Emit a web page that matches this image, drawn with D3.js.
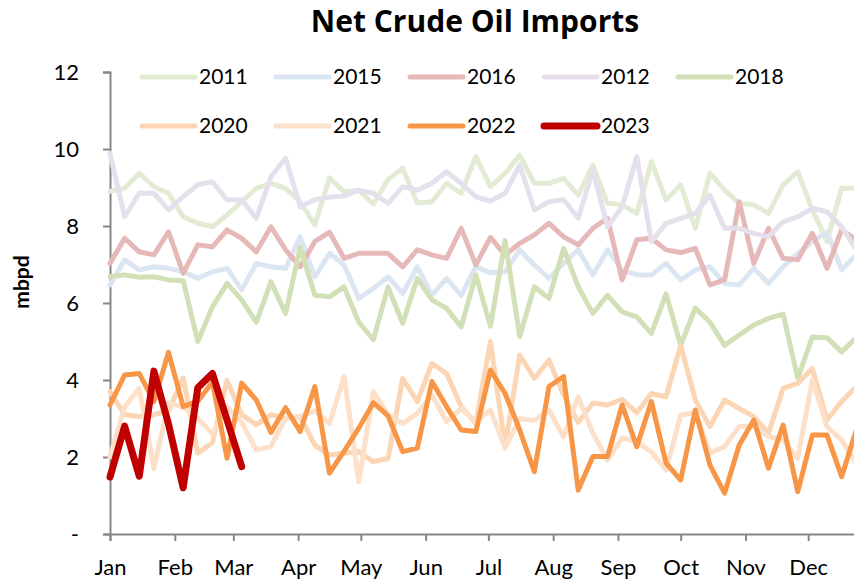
<!DOCTYPE html>
<html>
<head>
<meta charset="utf-8">
<script src="https://cdn.jsdelivr.net/npm/d3@7"></script>
<style>
  body { margin: 0; background: #fff; }
  text { font-family: Lato, "Open Sans", sans-serif; }
</style>
</head>
<body>
<div class="canvas"></div>
<script>
// weekly net crude imports, mbpd (week i falls on day 7*i of the year)
const years = ["2011", "2015", "2016", "2012", "2018", "2020", "2021", "2022", "2023"]
const colors = ["#e2ebd4", "#dce6f2", "#e6b9b8", "#e6e0ec", "#d1e0b6", "#fcd5b5", "#fde0c9", "#f79646", "#c00000"]
const widths = [5, 5, 5, 5, 5, 5, 5, 5, 7]

const s2011 = [8.9, 8.98, 9.37, 9.02, 8.85, 8.24, 8.07, 7.98, 8.29, 8.63, 8.98, 9.11, 8.98, 8.63,
  8.03, 9.25, 8.89, 8.93, 8.57, 9.2, 9.5, 8.6, 8.63, 9.11, 8.85, 9.8, 9.02,
  9.37, 9.84, 9.11, 9.11, 9.24, 8.8, 9.58, 8.59, 8.55, 8.33, 9.67, 8.68, 9.07,
  7.94, 9.37, 8.93, 8.59, 8.55, 8.33, 9.07, 9.41, 8.42, 7.6, 8.98, 8.98]
const s2015 = [6.47, 7.12, 6.86, 6.94, 6.9, 6.81, 6.64, 6.81, 6.9, 6.34, 7.03, 6.94, 6.9, 7.72,
  6.68, 7.29, 6.99, 6.12, 6.38, 6.68, 6.25, 6.94, 6.2, 6.64, 6.2, 6.94, 6.79,
  6.81, 7.38, 6.99, 6.64, 7.03, 7.38, 6.73, 7.38, 6.86, 6.73, 6.73, 7.03, 6.6,
  6.86, 6.94, 6.51, 6.47, 6.9, 6.51, 6.94, 7.29, 7.59, 7.85, 6.86, 7.25]
const s2016 = [7.03, 7.68, 7.33, 7.25, 7.85, 6.77, 7.51, 7.46, 7.9, 7.68, 7.33, 7.98, 7.38, 6.94,
  7.6, 7.84, 7.16, 7.29, 7.29, 7.29, 6.94, 7.38, 7.25, 7.16, 7.94, 6.99, 7.7,
  7.25, 7.55, 7.77, 8.07, 7.72, 7.51, 7.94, 8.2, 6.6, 7.64, 7.68, 7.38, 7.31,
  7.42, 6.47, 6.6, 8.63, 7.03, 7.94, 7.16, 7.12, 7.81, 6.9, 7.9, 7.64]
const s2012 = [9.89, 8.24, 8.85, 8.85, 8.42, 8.76, 9.07, 9.15, 8.68, 8.68, 8.2, 9.28, 9.76, 8.5,
  8.68, 8.75, 8.78, 8.93, 8.85, 8.59, 9.02, 8.93, 9.11, 9.41, 9.11, 8.76, 8.65,
  8.85, 9.58, 8.42, 8.63, 8.68, 8.2, 9.45, 7.98, 8.5, 9.8, 7.6, 8.07, 8.2,
  8.33, 8.8, 7.94, 7.94, 7.81, 7.72, 8.11, 8.24, 8.46, 8.37, 7.98, 7.38]
const s2018 = [6.68, 6.73, 6.67, 6.68, 6.6, 6.58, 5.0, 5.9, 6.51, 6.08, 5.5, 6.55, 5.73, 7.45,
  6.2, 6.16, 6.42, 5.5, 5.05, 6.42, 5.47, 6.64, 6.08, 5.86, 5.38, 6.73, 5.4,
  7.62, 5.13, 6.42, 6.12, 7.42, 6.42, 5.73, 6.2, 5.77, 5.64, 5.21, 6.24, 4.9,
  5.87, 5.5, 4.9, 5.17, 5.43, 5.6, 5.71, 4.05, 5.12, 5.1, 4.73, 5.1]
const s2020 = [3.7, 3.1, 3.05, 3.1, 3.2, 4.05, 2.1, 2.37, 3.99, 3.1, 2.84, 3.1, 3.0, 3.05,
  2.31, 2.05, 2.1, 2.14, 1.88, 1.96, 4.04, 3.44, 4.43, 4.17, 3.31, 2.87, 5.0,
  2.27, 4.65, 4.04, 4.52, 3.6, 2.9, 3.4, 3.35, 3.5, 3.15, 3.65, 3.56, 4.9,
  3.48, 2.79, 3.48, 3.26, 3.05, 2.62, 3.78, 3.91, 4.3, 2.96, 3.44, 3.83]
const s2021 = [2.0, 3.3, 3.79, 1.7, 3.4, 3.3, 3.0, 2.6, 3.3, 2.9, 2.18, 2.28, 3.0, 3.05,
  3.2, 2.87, 4.09, 1.36, 3.7, 3.09, 2.87, 3.13, 3.61, 2.92, 3.26, 2.92, 3.22,
  2.23, 3.0, 2.95, 3.22, 2.52, 3.56, 2.62, 1.92, 2.5, 2.4, 2.13, 1.66, 3.09,
  3.15, 2.1, 2.27, 2.79, 2.79, 2.53, 2.44, 1.96, 4.0, 2.79, 2.44, 1.84]
const s2022 = [3.35, 4.13, 4.17, 3.44, 4.72, 3.31, 3.45, 3.95, 1.97, 3.92, 3.48, 2.64, 3.28, 2.66,
  3.83, 1.58, 2.15, 2.75, 3.41, 3.07, 2.14, 2.23, 3.96, 3.31, 2.7, 2.66, 4.26,
  3.65, 2.7, 1.62, 3.83, 4.09, 1.14, 2.01, 2.01, 3.35, 2.27, 3.44, 1.84, 1.4,
  3.22, 1.79, 1.06, 2.31, 2.96, 1.71, 2.83, 1.1, 2.57, 2.57, 1.49, 2.7]
const s2023 = [1.48, 2.8, 1.5, 4.23, 2.85, 1.2, 3.8, 4.17, 2.96, 1.75]

const seriesValues = [s2011, s2015, s2016, s2012, s2018, s2020, s2021, s2022, s2023]
const monthNames = ["Jan", "Feb", "Mar", "Apr", "May", "Jun", "Jul", "Aug", "Sep", "Oct", "Nov", "Dec"]
const monthStarts = [0, 31, 59, 90, 120, 151, 181, 212, 243, 273, 304, 334]
const yTicks = [0, 2, 4, 6, 8, 10, 12]

const width = 854, height = 585
const svg = d3
  .select(".canvas")
  .append("svg")
  .attr("width", width)
  .attr("height", height)

let x = d3.scaleLinear().domain([0, 365]).range([110, 873])
let y = d3.scaleLinear().domain([0, 12]).range([534, 72])
const axisColor = "#868686"

// title
svg.append("text")
  .attr("x", 475)
  .attr("y", 32)
  .attr("text-anchor", "middle")
  .style("font-family", "'Open Sans', sans-serif")
  .style("font-size", "30px")
  .style("font-weight", "bold")
  .text("Net Crude Oil Imports")

// y axis
let yAxis = svg.append("g")
  .attr("transform", "translate(110,0)")
  .call(d3.axisLeft(y).tickValues(yTicks).tickSize(7).tickPadding(24)
    .tickFormat(d => d === 0 ? "-" : d))
yAxis.select(".domain").attr("stroke", axisColor).attr("stroke-width", 2)
yAxis.selectAll(".tick line").attr("stroke", axisColor).attr("stroke-width", 2)
yAxis.selectAll(".tick text")
  .attr("fill", "#000")
  .style("font-size", "22px")
  .style("font-family", "Lato, sans-serif")

svg.append("text")
  .attr("transform", "translate(29,282) rotate(-90)")
  .attr("text-anchor", "middle")
  .style("font-size", "21px")
  .style("font-weight", "bold")
  .text("mbpd")

// x axis
let xAxis = svg.append("g")
  .attr("transform", "translate(0,534)")
  .call(d3.axisBottom(x).tickValues(monthStarts).tickSize(7).tickPadding(18)
    .tickFormat((d, i) => monthNames[i]))
xAxis.select(".domain").attr("stroke", axisColor).attr("stroke-width", 2)
xAxis.selectAll(".tick line").attr("stroke", axisColor).attr("stroke-width", 2)
xAxis.selectAll(".tick text")
  .attr("fill", "#000")
  .style("font-size", "22px")
  .style("font-family", "Lato, sans-serif")

// lines
let line = d3.line()
  .x((d, i) => x(i * 7))
  .y(d => y(d))
  .curve(d3.curveLinear)

svg.append("g")
  .selectAll("path")
  .data(seriesValues)
  .enter()
  .append("path")
  .attr("d", line)
  .attr("fill", "none")
  .attr("stroke", (d, i) => colors[i])
  .attr("stroke-width", (d, i) => widths[i])
  .attr("stroke-linejoin", "round")
  .attr("stroke-linecap", "round")

// legend, two rows of five / four
let legend = svg.append("g")
  .selectAll("g")
  .data(years)
  .enter()
  .append("g")
  .attr("transform", (d, i) => `translate(${142 + (i % 5) * 134},${i < 5 ? 77 : 126})`)
legend.append("line")
  .attr("x1", 0).attr("x2", 53)
  .attr("stroke", (d, i) => colors[i])
  .attr("stroke-width", (d, i) => widths[i])
  .attr("stroke-linecap", "round")
legend.append("text")
  .attr("x", 57)
  .attr("y", 7)
  .style("font-size", "21px")
  .text(d => d)
</script>
</body>
</html>
